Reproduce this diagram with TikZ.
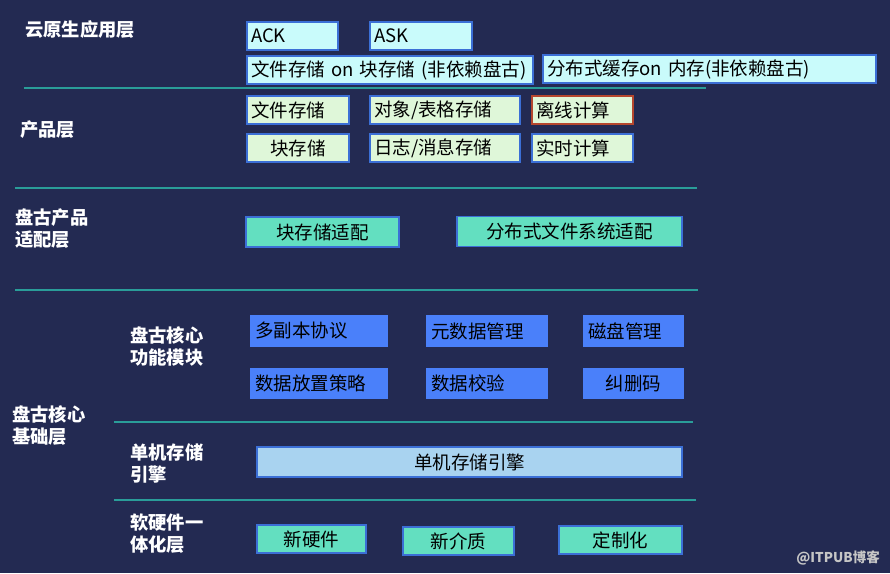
\documentclass[tikz,border=0pt]{standalone}
\usepackage{fontspec}
\setmainfont{Noto Sans CJK SC}
\usetikzlibrary{positioning}

\definecolor{bgnavy}{HTML}{232A52}
\definecolor{septeal}{HTML}{2A9D99}
\definecolor{edgeblue}{HTML}{3B6FD6}
\definecolor{cyanfill}{HTML}{C9FBFB}
\definecolor{greenfill}{HTML}{DFF7D9}
\definecolor{mintfill}{HTML}{63DFC0}
\definecolor{modblue}{HTML}{4A80FA}
\definecolor{skyfill}{HTML}{A9D3F0}
\definecolor{rustedge}{HTML}{B5472E}

\tikzset{
  layertext/.style={anchor=west, align=left, text=white, font=\fontsize{18.3}{22}\selectfont\bfseries, inner sep=0pt},
  boxtext/.style={draw=edgeblue, line width=1.5pt, minimum height=28, inner xsep=4pt, inner ysep=0pt, text=black, font=\fontsize{18.5}{20}\selectfont},
  lbox/.style={boxtext, text width=#1-8pt, align=left},
  cbox/.style={boxtext, minimum width=#1},
  sepline/.style={septeal, line width=2.5pt}
}

\begin{document}
\begin{tikzpicture}[x=1pt,y=-1pt]
  % background
  \fill[bgnavy] (0,0) rectangle (890,573);
  \useasboundingbox (0,0) rectangle (890,573);

  % layer separators
  \draw[sepline] (24,88) -- (706,88);
  \draw[sepline] (15,188) -- (697,188);
  \draw[sepline] (15,290) -- (698,290);
  \draw[sepline] (114,422) -- (693,422);
  \draw[sepline] (114,500) -- (696,500);

  % layer names
  \node[layertext] (lcloud) at (25,30) {云原生应用层};
  \node[layertext] (lprod) at (20,130) {产品层};
  \node[layertext] (ladapt) at (15,228.5) {盘古产品\\适配层};
  \node[layertext] (lbase) at (12,426) {盘古核心\\基础层};
  \node[layertext] (lfunc) at (130,346.5) {盘古核心\\功能模块};
  \node[layertext] (lengine) at (130,463) {单机存储\\引擎};
  \node[layertext] (lhw) at (130,534) {软硬件一\\体化层};

  % cloud native
  \node[lbox=91, fill=cyanfill] (ack) at (292.5,36) {ACK};
  \node[lbox=102, fill=cyanfill] (ask) at (421,36) {ASK};
  \node[lbox=286, fill=cyanfill] (fsblock) at (390,70) {文件存储 on 块存储 (非依赖盘古)};
  \node[lbox=333, fill=cyanfill] (cachemem) at (709.5,69) {分布式缓存on 内存(非依赖盘古)};

  % products
  \node[lbox=102, fill=greenfill] (filest) at (298,110) {文件存储};
  \node[cbox=102, fill=greenfill] (blockst) at (298,148) {块存储};
  \node[lbox=150, fill=greenfill] (objst) at (445,110) {对象/表格存储};
  \node[lbox=150, fill=greenfill] (logst) at (445,148) {日志/消息存储};
  \node[lbox=101, fill=greenfill, draw=rustedge] (offline) at (582.5,110) {离线计算};
  \node[lbox=101, fill=greenfill] (realtime) at (582.5,148) {实时计算};

  % adaptation
  \node[cbox=153, fill=mintfill, minimum height=30] (blkadapt) at (322.5,232) {块存储适配};
  \node[cbox=225, fill=mintfill, minimum height=30] (dfsadapt) at (569.5,231.5) {分布式文件系统适配};

  % core function modules
  \node[lbox=136, fill=modblue, draw=modblue, minimum height=30] (replica) at (319,331) {多副本协议};
  \node[lbox=120, fill=modblue, draw=modblue, minimum height=30] (meta) at (487,331) {元数据管理};
  \node[lbox=99, fill=modblue, draw=modblue, minimum height=30] (disk) at (633.5,331) {磁盘管理};
  \node[lbox=136, fill=modblue, draw=modblue, minimum height=29] (placing) at (319,383.5) {数据放置策略};
  \node[lbox=120, fill=modblue, draw=modblue, minimum height=29] (verify) at (487,383.5) {数据校验};
  \node[cbox=99, fill=modblue, draw=modblue, minimum height=29] (erasure) at (633.5,383.5) {纠删码};

  % single machine engine
  \node[cbox=425, fill=skyfill, minimum height=30] (engine) at (469.5,462) {单机存储引擎};

  % hardware
  \node[cbox=109, fill=mintfill] (newhw) at (311.5,539) {新硬件};
  \node[cbox=111, fill=mintfill] (newmed) at (458.5,541) {新介质};
  \node[cbox=123, fill=mintfill] (custom) at (620.5,540) {定制化};

  \node[anchor=east, text=gray!45, font=\fontsize{13.5}{13.5}\selectfont\bfseries, inner sep=0pt] (mark) at (880,558) {@ITPUB博客};
\end{tikzpicture}
\end{document}
